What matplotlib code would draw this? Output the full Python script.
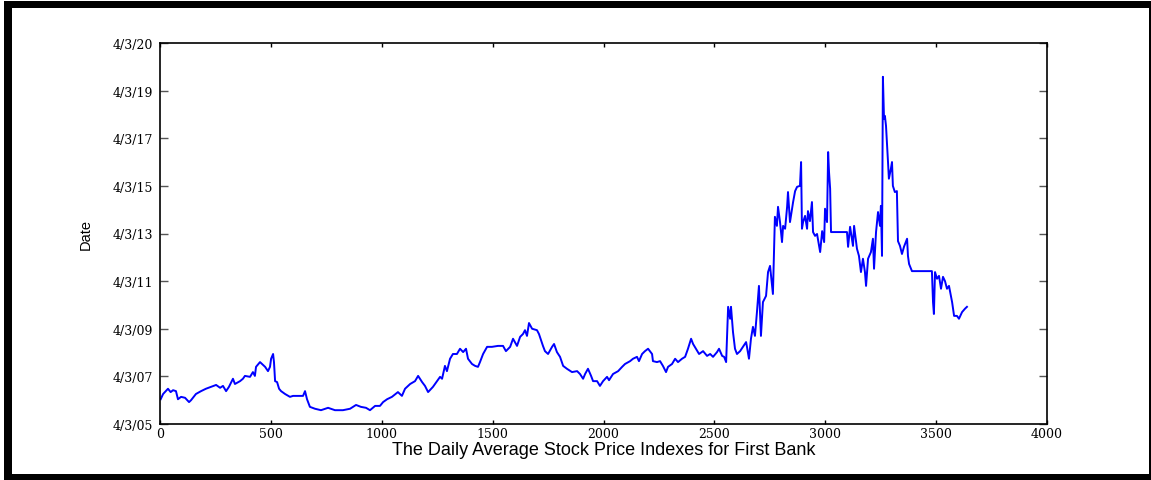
import matplotlib
matplotlib.use("Agg")
import matplotlib.pyplot as plt
from matplotlib.patches import Rectangle

# Trading-day index of each reading
days = [
    3, 14, 36, 48, 59, 72, 81, 95, 113, 131, 140, 162, 185, 207, 230, 253, 271, 284, 298, 311,
    329, 338, 361, 374, 383, 406, 419, 428, 433, 451, 460, 474, 487, 496, 501, 510, 514, 519, 528, 537,
    546, 564, 586, 600, 622, 645, 654, 663, 676, 699, 726, 758, 789, 825, 857, 884, 906, 929, 947, 970,
    992, 1006, 1024, 1046, 1073, 1091, 1105, 1128, 1150, 1164, 1182, 1195, 1209, 1231, 1249, 1263, 1272, 1285, 1294, 1308,
    1321, 1339, 1353, 1367, 1380, 1389, 1407, 1421, 1434, 1443, 1457, 1475, 1497, 1524, 1547, 1560, 1579, 1592, 1610, 1624,
    1637, 1646, 1655, 1664, 1678, 1700, 1709, 1727, 1736, 1750, 1768, 1777, 1790, 1804, 1818, 1835, 1858, 1881, 1894, 1908,
    1917, 1930, 1944, 1953, 1971, 1984, 1998, 2016, 2025, 2043, 2066, 2084, 2097, 2120, 2133, 2151, 2160, 2174, 2187, 2201,
    2219, 2223, 2241, 2255, 2268, 2282, 2291, 2309, 2323, 2336, 2354, 2368, 2381, 2395, 2404, 2417, 2431, 2449, 2467, 2481,
    2494, 2512, 2521, 2535, 2544, 2553, 2562, 2571, 2575, 2584, 2593, 2602, 2616, 2629, 2643, 2647, 2656, 2665, 2674, 2683,
    2692, 2701, 2710, 2719, 2733, 2742, 2751, 2760, 2764, 2773, 2782, 2787, 2796, 2805, 2810, 2819, 2828, 2832, 2841, 2850,
    2855, 2864, 2873, 2886, 2891, 2895, 2900, 2909, 2918, 2922, 2931, 2940, 2945, 2954, 2963, 2977, 2986, 2995, 2999, 3008,
    3013, 3017, 3022, 3026, 3098, 3103, 3112, 3125, 3130, 3143, 3152, 3161, 3170, 3179, 3184, 3193, 3206, 3215, 3220, 3229,
    3238, 3247, 3251, 3256, 3260, 3265, 3269, 3274, 3278, 3283, 3287, 3296, 3301, 3305, 3314, 3323, 3328, 3337, 3346, 3355,
    3369, 3373, 3378, 3391, 3481, 3486, 3490, 3495, 3504, 3513, 3522, 3531, 3540, 3549, 3558, 3572, 3581, 3594, 3603, 3617,
    3630, 3639,
]

# Daily average index level, in units of the date-tick spacing
index_level = [
    0.52, 0.63, 0.74, 0.67, 0.71, 0.69, 0.52, 0.57, 0.55, 0.46, 0.50, 0.63, 0.69, 0.74, 0.78, 0.82, 0.76, 0.80, 0.69, 0.78,
    0.95, 0.84, 0.90, 0.95, 1.01, 0.99, 1.09, 1.01, 1.20, 1.30, 1.26, 1.20, 1.11, 1.20, 1.37, 1.47, 1.30, 0.90, 0.88, 0.74,
    0.69, 0.63, 0.57, 0.59, 0.59, 0.59, 0.69, 0.52, 0.36, 0.32, 0.29, 0.34, 0.29, 0.29, 0.32, 0.40, 0.36, 0.34, 0.29, 0.38,
    0.38, 0.46, 0.52, 0.57, 0.67, 0.59, 0.74, 0.84, 0.90, 1.01, 0.88, 0.80, 0.67, 0.78, 0.90, 0.99, 0.95, 1.22, 1.11, 1.37,
    1.47, 1.47, 1.58, 1.51, 1.58, 1.37, 1.26, 1.22, 1.20, 1.30, 1.47, 1.62, 1.62, 1.64, 1.64, 1.53, 1.62, 1.79, 1.64, 1.83,
    1.89, 1.97, 1.85, 2.12, 2.00, 1.97, 1.89, 1.64, 1.53, 1.47, 1.62, 1.68, 1.51, 1.41, 1.22, 1.16, 1.09, 1.11, 1.05, 0.95,
    1.05, 1.16, 1.01, 0.90, 0.90, 0.80, 0.90, 0.99, 0.92, 1.05, 1.11, 1.20, 1.26, 1.32, 1.37, 1.41, 1.32, 1.47, 1.53, 1.58,
    1.47, 1.32, 1.30, 1.32, 1.22, 1.09, 1.20, 1.26, 1.37, 1.30, 1.37, 1.41, 1.58, 1.79, 1.68, 1.58, 1.47, 1.53, 1.43, 1.47,
    1.41, 1.51, 1.58, 1.43, 1.41, 1.30, 2.46, 2.21, 2.46, 1.93, 1.58, 1.47, 1.53, 1.62, 1.72, 1.62, 1.37, 1.79, 2.04, 1.85,
    2.35, 2.90, 1.85, 2.56, 2.69, 3.19, 3.32, 2.90, 2.73, 4.35, 4.16, 4.56, 4.24, 3.82, 4.16, 4.10, 4.56, 4.87, 4.24, 4.52,
    4.66, 4.89, 4.98, 5.00, 5.50, 4.10, 4.24, 4.37, 4.10, 4.47, 4.26, 4.66, 4.03, 3.95, 3.99, 3.61, 4.05, 3.82, 4.52, 4.24,
    5.71, 5.29, 4.94, 4.03, 4.03, 3.72, 4.14, 3.74, 4.16, 3.68, 3.53, 3.19, 3.47, 3.19, 2.90, 3.47, 3.61, 3.89, 3.26, 4.03,
    4.45, 4.16, 4.58, 3.53, 7.29, 6.41, 6.47, 6.26, 5.94, 5.50, 5.15, 5.36, 5.50, 5.00, 4.87, 4.89, 3.84, 3.74, 3.57, 3.72,
    3.89, 3.53, 3.36, 3.21, 3.21, 2.56, 2.31, 3.19, 3.05, 3.11, 2.84, 3.09, 3.00, 2.84, 2.90, 2.56, 2.27, 2.27, 2.21, 2.35,
    2.42, 2.46,
]

x_ticks = [0, 500, 1000, 1500, 2000, 2500, 3000, 3500, 4000]
y_ticks = [0, 1, 2, 3, 4, 5, 6, 7, 8]
y_tick_labels = ["4/3/05", "4/3/07", "4/3/09", "4/3/11", "4/3/13",
                 "4/3/15", "4/3/17", "4/3/19", "4/3/20"]

W, H = 1151, 481
fig = plt.figure(figsize=(W / 100, H / 100), dpi=100)
fig.patch.set_facecolor("white")

ax = fig.add_axes([160 / W, 1 - 425 / H, (1047 - 160) / W, (425 - 44) / H])
ax.plot(days, index_level, color="#0000ff", lw=1.4)

ax.set_xlim(0, 4000)
ax.set_ylim(0, 8)
ax.set_xticks(x_ticks)
ax.set_xticklabels([str(t) for t in x_ticks], fontfamily="DejaVu Serif", fontsize=9)
ax.set_yticks(y_ticks)
ax.set_yticklabels(y_tick_labels, fontfamily="DejaVu Serif", fontsize=9)

ax.tick_params(axis="x", direction="in", length=3, width=1, top=True, bottom=True, pad=2)
ax.tick_params(axis="y", direction="in", length=6, width=1, left=True, right=True,
               pad=5, color="#555555")
for s in ax.spines.values():
    s.set_linewidth(1.2)
    s.set_color("black")

ax.set_xlabel("The Daily Average Stock Price Indexes for First Bank",
              fontfamily="Liberation Sans", fontsize=13, labelpad=1)
ax.set_ylabel("Date", fontfamily=["Liberation Sans Narrow", "Liberation Sans"],
              fontsize=10.5, labelpad=14)

# Thick black frame around the figure
def frame_bar(x0, y0, x1, y1):
    fig.add_artist(Rectangle((x0 / W, 1 - y1 / H), (x1 - x0) / W, (y1 - y0) / H,
                             transform=fig.transFigure, facecolor="black",
                             edgecolor="none"))

frame_bar(4, 2, 12, 481)
frame_bar(4, 2, 1151, 9)
frame_bar(4, 475, 1151, 481)
frame_bar(1149, 2, 1151, 481)

fig.savefig("out.png", dpi=100, facecolor="white")
